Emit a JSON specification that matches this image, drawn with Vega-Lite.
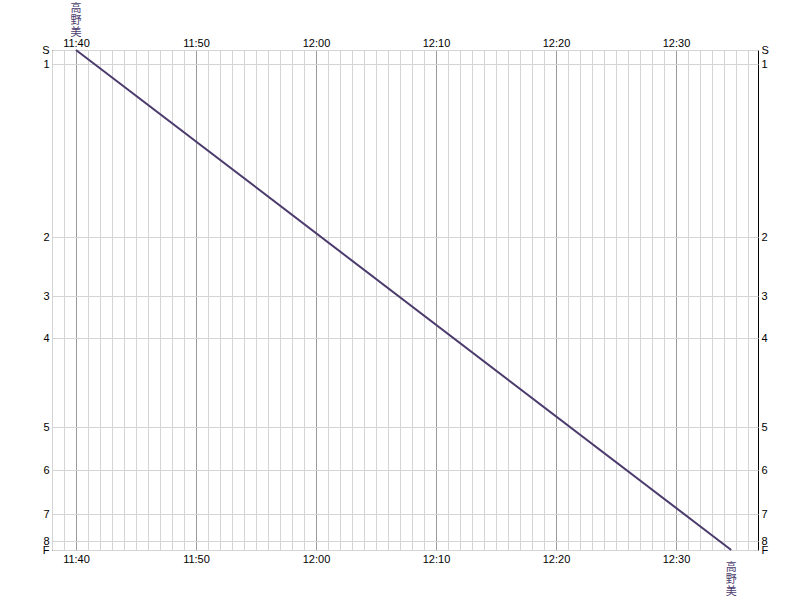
{
  "$schema": "https://vega.github.io/schema/vega-lite/v6.json",
  "width": 706,
  "height": 500,
  "autosize": "none",
  "padding": {"left": 52, "top": 50, "right": 52, "bottom": 50},
  "background": "white",
  "config": {
    "view": {"stroke": "black", "strokeWidth": 1},
    "axis": {"domain": false, "ticks": false, "labelFont": "Liberation Sans", "labelFontSize": 11, "labelColor": "black", "labelOverlap": false, "labelFlush": false, "labelBound": false}
  },
  "datasets": {
    "train": [
      {"train": "高野美", "time": "2024-01-01 11:40:00", "pos": 0},
      {"train": "高野美", "time": "2024-01-01 12:34:36", "pos": 500}
    ],
    "labels": [
      {"side": "start", "time": "2024-01-01 11:40:00", "pos": 0, "label": "高\n野\n美"},
      {"side": "end", "time": "2024-01-01 12:34:36", "pos": 500, "label": "高\n野\n美"}
    ]
  },
  "layer": [
    {
      "data": {"name": "train"},
      "mark": {"type": "line", "color": "#4b3b6d", "strokeWidth": 2},
      "encoding": {
        "x": {"field": "time", "type": "temporal",
          "scale": {"domain": [{"year": 2024, "month": 1, "date": 1, "hours": 11, "minutes": 38}, {"year": 2024, "month": 1, "date": 1, "hours": 12, "minutes": 36, "seconds": 50}], "nice": false},
          "axis": {"orient": "top", "title": null, "tickCount": 59, "grid": true,
            "gridColor": {"condition": {"test": "minutes(datum.value) % 10 === 0", "value": "#9a9a9a"}, "value": "#d4d4d4"},
            "labelExpr": "minutes(datum.value) % 10 === 0 ? timeFormat(datum.value, '%H:%M') : ''",
            "labelPadding": 2}},
        "y": {"field": "pos", "type": "quantitative",
          "scale": {"domain": [0, 500], "reverse": true, "nice": false, "zero": false},
          "axis": {"orient": "left", "title": null, "values": [0, 14, 187, 246, 288, 377, 420, 464, 491, 500], "grid": true, "gridColor": "#d4d4d4",
            "labelExpr": "datum.value==0?'S':datum.value==14?'1':datum.value==187?'2':datum.value==246?'3':datum.value==288?'4':datum.value==377?'5':datum.value==420?'6':datum.value==464?'7':datum.value==491?'8':'F'",
            "labelPadding": 3, "labelBaseline": "middle"}}
      }
    },
    {
      "data": {"name": "labels"},
      "transform": [{"filter": "datum.side === 'start'"}],
      "mark": {"type": "text", "font": "Noto Sans CJK JP", "fontSize": 11, "lineHeight": 12, "lineBreak": "\n", "baseline": "top", "align": "center", "dy": -47, "color": "#4b3b6d"},
      "encoding": {
        "x": {"field": "time", "type": "temporal", "axis": {"orient": "bottom", "title": null, "tickCount": 59, "grid": false,
            "labelExpr": "minutes(datum.value) % 10 === 0 ? timeFormat(datum.value, '%H:%M') : ''", "labelPadding": 3}},
        "y": {"field": "pos", "type": "quantitative", "axis": {"orient": "right", "title": null, "values": [0, 14, 187, 246, 288, 377, 420, 464, 491, 500], "grid": false,
            "labelExpr": "datum.value==0?'S':datum.value==14?'1':datum.value==187?'2':datum.value==246?'3':datum.value==288?'4':datum.value==377?'5':datum.value==420?'6':datum.value==464?'7':datum.value==491?'8':'F'",
            "labelPadding": 3, "labelBaseline": "middle"}},
        "text": {"field": "label"}
      }
    },
    {
      "data": {"name": "labels"},
      "transform": [{"filter": "datum.side === 'end'"}],
      "mark": {"type": "text", "font": "Noto Sans CJK JP", "fontSize": 11, "lineHeight": 12, "lineBreak": "\n", "baseline": "top", "align": "center", "dy": 12, "color": "#4b3b6d"},
      "encoding": {
        "x": {"field": "time", "type": "temporal", "axis": null},
        "y": {"field": "pos", "type": "quantitative", "axis": null},
        "text": {"field": "label"}
      }
    }
  ],
  "resolve": {"axis": {"x": "independent", "y": "independent"}}
}
